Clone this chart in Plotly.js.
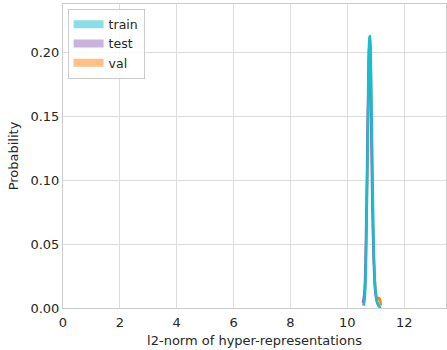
<!DOCTYPE html>
<html>
<head>
<meta charset="utf-8">
<script src="https://cdn.plot.ly/plotly-3.0.1.min.js"></script>
<style>html,body{margin:0;padding:0;background:#fff}#chart{width:447px;height:350px}</style>
</head>
<body>
<div id="chart"></div>
<script>
const seriesNames = ["train", "test", "val"];
const trainX = [10.58, 10.62, 10.66, 10.70, 10.74, 10.78, 10.80, 10.83, 10.87, 10.91, 10.95, 11.00, 11.05, 11.10, 11.17];
const trainY = [0.002, 0.010, 0.040, 0.100, 0.170, 0.212, 0.213, 0.190, 0.130, 0.070, 0.030, 0.012, 0.005, 0.002, 0.000];
const testX = [10.55, 10.60, 10.65, 10.70, 10.74, 10.77, 10.80, 10.84, 10.88, 10.93, 10.98, 11.05, 11.12];
const testY = [0.004, 0.012, 0.050, 0.120, 0.185, 0.205, 0.190, 0.140, 0.080, 0.035, 0.013, 0.004, 0.001];
const valX = [10.57, 10.62, 10.67, 10.72, 10.76, 10.79, 10.82, 10.86, 10.90, 10.95, 11.00, 11.05, 11.10, 11.14, 11.18];
const valY = [0.002, 0.015, 0.060, 0.140, 0.190, 0.205, 0.190, 0.130, 0.070, 0.030, 0.012, 0.006, 0.008, 0.007, 0.002];
const xTicks = [0, 2, 4, 6, 8, 10, 12];
const yTicks = [0.00, 0.05, 0.10, 0.15, 0.20];

const lineColors = {train: "#17becf", test: "#9467bd", val: "#ff7f0e"};
const patchColors = {train: "#8bdee7", test: "#c9b3de", val: "#ffbf86"};
const data = {train: [trainX, trainY], test: [testX, testY], val: [valX, valY]};

const traces = [];
// draw val, test, then train on top
["val", "test", "train"].forEach(n => {
  traces.push({
    type: "scatter", mode: "lines", x: data[n][0], y: data[n][1],
    line: {color: lineColors[n], width: 2.5, shape: "spline"},
    showlegend: false, hoverinfo: "skip"
  });
});
seriesNames.forEach(n => {
  traces.push({
    type: "scatter", mode: "lines", x: [null], y: [null], name: n,
    line: {color: patchColors[n], width: 8}, showlegend: true
  });
});

const font = {family: "DejaVu Sans, sans-serif", size: 13, color: "#262626"};
const layout = {
  width: 447, height: 350,
  margin: {l: 63, r: 1, t: 4, b: 42},
  paper_bgcolor: "#fff", plot_bgcolor: "#fff",
  font: font,
  showlegend: true,
  legend: {x: 0.012, y: 0.985, xanchor: "left", yanchor: "top",
    bgcolor: "rgba(255,255,255,0.8)", bordercolor: "#cccccc", borderwidth: 1,
    font: {family: "DejaVu Sans, sans-serif", size: 12.5, color: "#262626"},
    tracegroupgap: 0, itemwidth: 30},
  xaxis: {range: [0, 13.47], tickvals: xTicks, ticktext: xTicks.map(String),
    showgrid: true, gridcolor: "#dddddd", gridwidth: 1, zeroline: false,
    showline: true, linecolor: "#cccccc", linewidth: 1, mirror: true, ticks: "",
    ticklen: 0, ticklabelstandoff: 2,
    title: {text: "l2-norm of hyper-representations", font: font, standoff: 7},
    fixedrange: true},
  yaxis: {range: [0, 0.238], tickvals: yTicks, ticktext: yTicks.map(v => v.toFixed(2)),
    showgrid: true, gridcolor: "#dddddd", gridwidth: 1, zeroline: false,
    showline: true, linecolor: "#cccccc", linewidth: 1, mirror: true, ticks: "",
    title: {text: "Probability", font: font, standoff: 8}, fixedrange: true}
};
Plotly.newPlot("chart", traces, layout, {displayModeBar: false, staticPlot: true});
</script>
</body>
</html>
